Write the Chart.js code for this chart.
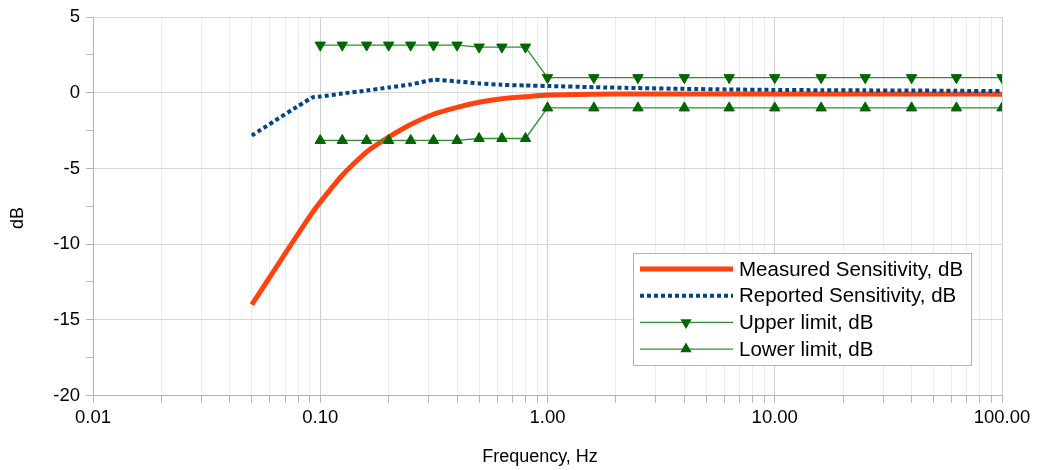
<!DOCTYPE html>
<html>
<head>
<meta charset="utf-8">
<script src="https://cdn.jsdelivr.net/npm/chart.js@4/dist/chart.umd.min.js"></script>
<style>
  body { margin: 0; background: #fff; }
  #c { display: block; }
</style>
</head>
<body>
<canvas id="c" width="1038" height="470"></canvas>
<script>
// values
const meas_freq = [0.05, 0.092, 0.125, 0.16, 0.2, 0.25, 0.315, 0.4, 0.5, 0.63, 0.8, 1, 1.6, 2.5, 4, 6.3, 10, 16, 25, 40, 63, 100];
const meas_db = [-14.0, -7.95, -5.45, -3.9, -2.93, -2.1, -1.42, -0.96, -0.63, -0.39, -0.26, -0.15, -0.1, -0.08, -0.08, -0.08, -0.08, -0.08, -0.08, -0.08, -0.08, -0.09];

const rep_freq = [0.05, 0.092, 0.1, 0.125, 0.16, 0.2, 0.25, 0.315, 0.4, 0.5, 0.63, 0.8, 1, 1.6, 2.5, 4, 6.3, 10, 16, 25, 40, 63, 100];
const rep_db = [-2.82, -0.32, -0.25, -0.05, 0.15, 0.35, 0.55, 0.85, 0.75, 0.62, 0.53, 0.48, 0.45, 0.37, 0.31, 0.26, 0.22, 0.19, 0.17, 0.16, 0.15, 0.13, 0.11];

const lim_freq = [0.1, 0.125, 0.16, 0.2, 0.25, 0.315, 0.4, 0.5, 0.63, 0.8, 1, 1.6, 2.5, 4, 6.3, 10, 16, 25, 40, 63, 100];
const upper_db = [3.15, 3.15, 3.15, 3.15, 3.15, 3.15, 3.15, 3.02, 3.02, 3.02, 1, 1, 1, 1, 1, 1, 1, 1, 1, 1, 1];
const lower_db = [-3.15, -3.15, -3.15, -3.15, -3.15, -3.15, -3.15, -3.02, -3.02, -3.02, -1, -1, -1, -1, -1, -1, -1, -1, -1, -1, -1];

const x_decades = [0.01, 0.1, 1, 10, 100];
const y_labels = [-20, -15, -10, -5, 0, 5];

const RED = "#ff420e", BLUE = "#004586", GLINE = "#2f8f2f", GMARK = "#006600";

function pts(xs, ys) {
  return xs.map((x, i) => ({ x: x, y: ys[i] }));
}

function is_decade(v) {
  return x_decades.some(d => Math.abs(v - d) / d < 1e-6);
}

// legend sits inside the plot, like the original
const legendBox = {
  id: "legendBox",
  afterDraw(chart) {
    const ctx = chart.ctx;
    const x0 = 633, y0 = 253, w = 338, h = 112;
    ctx.save();
    ctx.fillStyle = "#fff";
    ctx.fillRect(x0, y0, w, h);
    ctx.strokeStyle = "#b3b3b3";
    ctx.lineWidth = 1;
    ctx.strokeRect(x0 + 0.5, y0 + 0.5, w, h);
    ctx.font = "20.5px 'Liberation Sans', Arial, sans-serif";
    ctx.textBaseline = "middle";
    chart.data.datasets.forEach((ds, i) => {
      const y = y0 + 16 + i * 26.7;
      ctx.save();
      ctx.strokeStyle = ds.borderColor;
      ctx.lineWidth = ds.borderWidth;
      ctx.setLineDash(ds.borderDash || []);
      ctx.beginPath();
      ctx.moveTo(640, y);
      ctx.lineTo(733, y);
      ctx.stroke();
      ctx.restore();
      if (ds.pointRadius > 0) {
        // little triangle marker
        const r = ds.pointRadius + 0.5;
        const rot = (ds.pointRotation || 0) * Math.PI / 180;
        ctx.fillStyle = GMARK;
        ctx.beginPath();
        for (let k = 0; k < 3; k++) {
          const a = rot - Math.PI / 2 + k * 2 * Math.PI / 3;
          const px = 686 + Math.cos(a) * r, py = y + Math.sin(a) * r;
          if (k == 0) ctx.moveTo(px, py); else ctx.lineTo(px, py);
        }
        ctx.closePath();
        ctx.fill();
      }
      ctx.fillStyle = "#000";
      ctx.fillText(ds.label, 739, y + 1);
    });
    ctx.restore();
  }
};

// axis titles, placed where the original has them
const axisTitles = {
  id: "axisTitles",
  afterDraw(chart) {
    const ctx = chart.ctx;
    ctx.save();
    ctx.fillStyle = "#000";
    ctx.font = "18px 'Liberation Sans', Arial, sans-serif";
    ctx.textAlign = "center";
    ctx.textBaseline = "middle";
    ctx.fillText("Frequency, Hz", 540, 457);
    ctx.translate(18, 218);
    ctx.rotate(-Math.PI / 2);
    ctx.fillText("dB", 0, 0);
    ctx.restore();
  }
};

const chart = new Chart(document.getElementById("c").getContext("2d"), {
  type: "line",
  data: {
    datasets: [
      {
        label: "Measured Sensitivity, dB",
        data: pts(meas_freq, meas_db),
        borderColor: RED, backgroundColor: RED,
        borderWidth: 5, pointRadius: 0, tension: 0.2,
        borderJoinStyle: "round", order: 4
      },
      {
        label: "Reported Sensitivity, dB",
        data: pts(rep_freq, rep_db),
        borderColor: BLUE, backgroundColor: BLUE,
        borderWidth: 4, borderDash: [4, 3], pointRadius: 0, tension: 0.2,
        order: 3
      },
      {
        label: "Upper limit, dB",
        data: pts(lim_freq, upper_db),
        borderColor: GLINE, backgroundColor: GMARK,
        borderWidth: 1.3, pointStyle: "triangle", pointRotation: 180,
        pointRadius: 6, pointBorderColor: GMARK, pointBackgroundColor: GMARK,
        pointBorderWidth: 1, tension: 0, order: 2
      },
      {
        label: "Lower limit, dB",
        data: pts(lim_freq, lower_db),
        borderColor: GLINE, backgroundColor: GMARK,
        borderWidth: 1.3, pointStyle: "triangle", pointRotation: 0,
        pointRadius: 6, pointBorderColor: GMARK, pointBackgroundColor: GMARK,
        pointBorderWidth: 1, tension: 0, order: 1
      }
    ]
  },
  options: {
    responsive: false,
    animation: false,
    devicePixelRatio: 1,
    layout: { padding: { top: 16, right: 36, left: 0, bottom: 0 } },
    plugins: { legend: { display: false }, tooltip: { enabled: false } },
    scales: {
      x: {
        type: "logarithmic",
        min: 0.01, max: 100,
        afterBuildTicks(scale) {
          let t = [];
          for (let d of x_decades) {
            if (d == 100) { t.push({ value: 100 }); break; }
            for (let n = 1; n <= 9; n++) t.push({ value: +(n * d).toPrecision(3) });
          }
          scale.ticks = t;
        },
        afterFit(scale) { scale.height = 74.5; },
        ticks: {
          autoSkip: false, maxRotation: 0, padding: 4,
          color: "#000",
          font: { size: 18.5, family: "'Liberation Sans', Arial, sans-serif" },
          callback: v => is_decade(v) ? v.toFixed(2) : ""
        },
        grid: {
          color: c => is_decade(c.tick.value) ? "#cfcfcf" : "#ebebeb",
          tickColor: "#b3b3b3",
          tickLength: 7
        },
        border: { color: "#b3b3b3" }
      },
      y: {
        min: -20, max: 5,
        afterBuildTicks(scale) {
          let t = [];
          for (let v = -20; v <= 5; v += 2.5) t.push({ value: v });
          scale.ticks = t;
        },
        afterFit(scale) { scale.width = 93; },
        ticks: {
          autoSkip: false, padding: 6,
          color: "#000",
          font: { size: 18.5, family: "'Liberation Sans', Arial, sans-serif" },
          callback: v => y_labels.includes(v) ? String(v) : ""
        },
        grid: {
          color: c => (c.tick && y_labels.includes(c.tick.value)) ? "#d6d6d6" : "rgba(0,0,0,0)",
          tickColor: "#b3b3b3",
          tickLength: 7
        },
        border: { color: "#b3b3b3" }
      }
    }
  },
  plugins: [legendBox, axisTitles]
});
</script>
</body>
</html>
